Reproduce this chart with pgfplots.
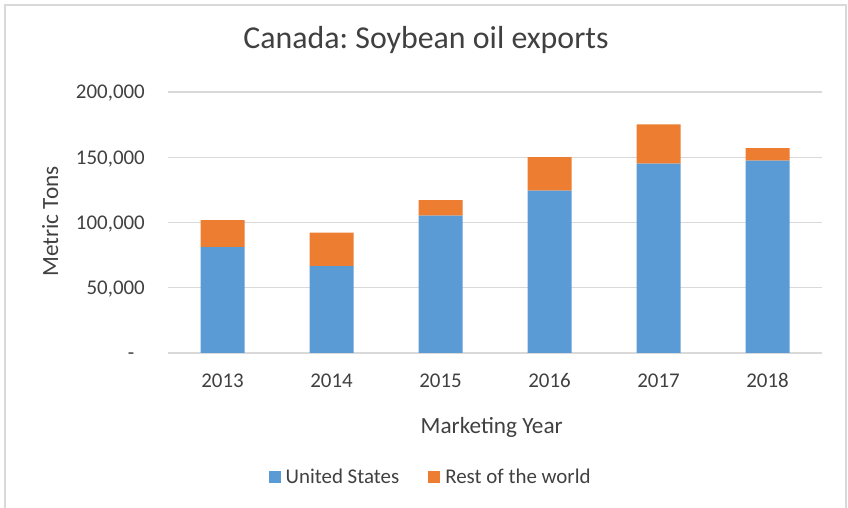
\documentclass[border=0pt]{standalone}
\usepackage{fontspec}
\setmainfont{Carlito}
\usepackage{pgfplots}
\pgfplotsset{compat=1.18}
\definecolor{usblue}{HTML}{5B9BD5}
\definecolor{roworange}{HTML}{ED7D31}
\definecolor{gridgray}{HTML}{D9D9D9}
\definecolor{txt}{HTML}{404040}
\frenchspacing
\begin{document}
\begin{tikzpicture}
\useasboundingbox (0bp,0bp) rectangle (848bp,508bp);
\draw[gridgray, line width=2.5bp] (5bp,-5bp) -- (5bp,503bp) -- (846bp,503bp) -- (846bp,-5bp);
\begin{axis}[
  at={(168bp,155bp)}, anchor=south west,
  scale only axis, width=654bp, height=261bp,
  ybar stacked, bar width=44bp,
  xmin=-0.5, xmax=5.5, ymin=0, ymax=200000,
  xtick={0,1,2,3,4,5}, xticklabels={2013,2014,2015,2016,2017,2018},
  ytick={0,50000,100000,150000,200000},
  yticklabels={{-\phantom{0}},{50,000},{100,000},{150,000},{200,000}},
  scaled y ticks=false,
  axis line style={draw=none},
  tick style={draw=none},
  ymajorgrids, major grid style={gridgray, line width=1.3bp},
  /pgf/number format/assume math mode=true,
  tick label style={text=txt, font=\fontsize{21}{25}\selectfont},
  xticklabel style={anchor=base, yshift=-35bp},
  yticklabel style={anchor=base east, inner xsep=0pt, xshift=-23bp, yshift=-7bp},
  title={Canada: Soybean oil exports},
  title style={at={(axis description cs:0.3945,1.1456)}, anchor=base, text=txt, font=\fontsize{32}{38}\selectfont},
  xlabel={Marketing Year},
  xlabel style={at={(axis description cs:0.495,-0.31)}, anchor=base, text=txt, font=\fontsize{23.3}{28}\selectfont},
  ylabel={Metric Tons},
  ylabel style={at={(axis description cs:-0.168,0.504)}, anchor=base, text=txt, font=\fontsize{23.3}{28}\selectfont},
  legend columns=2,
  legend style={at={(axis description cs:0.400,-0.475)}, anchor=center, draw=none, fill=none,
    font=\fontsize{21}{25}\selectfont, text=txt, inner sep=0pt,
    nodes={inner sep=0pt},
    /tikz/every odd column/.append style={column sep=5bp},
    /tikz/every even column/.append style={column sep=29bp}},
  legend image code/.code={\fill[#1] (0bp,-6bp) rectangle (12bp,6bp);},
]
\addplot[fill=usblue, draw=none] coordinates {(0,81100) (1,66500) (2,105200) (3,124400) (4,145200) (5,147500)};
\addplot[fill=roworange, draw=none] coordinates {(0,20700) (1,25800) (2,12000) (3,25600) (4,30000) (5,9500)};
\legend{United States, Rest of the world}
\end{axis}
\end{tikzpicture}
\end{document}
